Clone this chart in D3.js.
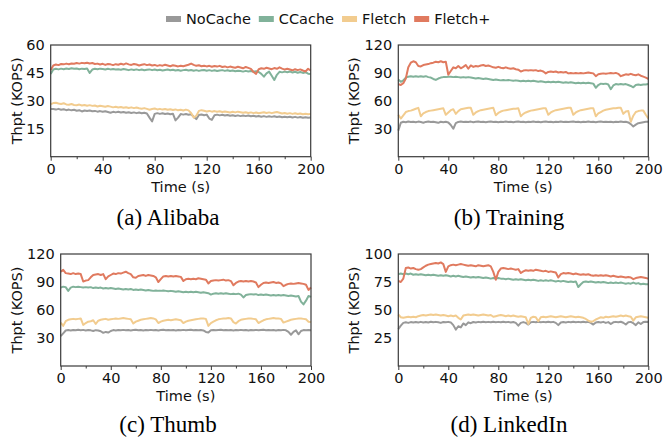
<!DOCTYPE html>
<html><head><meta charset="utf-8">
<script src="https://cdn.jsdelivr.net/npm/d3@7"></script>
<style>body{margin:0;background:#fff} svg text{font-family:"DejaVu Sans",sans-serif}</style>
</head><body><svg id="c" width="665" height="439"></svg>
<script>
// ---------- data ----------
const seconds = d3.range(0, 201, 2);
const seriesNames = ["NoCache", "CCache", "Fletch", "Fletch+"];
const xTicks = [0, 40, 80, 120, 160, 200];
const xMinorTicks = [20, 60, 100, 140, 180];
const captions = ["(a) Alibaba", "(b) Training", "(c) Thumb", "(d) LinkedIn"];
const yMaxes = [60, 120, 120, 100];
const yTickSets = [[15, 30, 45, 60], [30, 60, 90, 120], [30, 60, 90, 120], [25, 50, 75, 100]];

const alibabaNoCache = [25.6,25.6,25.3,25.7,25.2,25.5,25.0,25.3,24.9,25.2,
24.7,25.0,24.3,24.8,24.5,24.8,24.4,24.6,24.2,24.5,
24.1,24.4,24.0,23.6,24.1,23.8,24.1,23.7,24.0,23.6,
23.9,23.5,23.8,23.4,23.7,23.3,23.6,23.2,21.0,19.0,
23.0,23.4,23.0,23.3,22.9,23.2,22.8,23.1,19.5,21.0,
22.9,22.6,22.9,22.5,22.8,21.5,20.2,22.4,22.7,22.3,
22.6,20.5,19.8,22.3,22.6,22.2,22.5,22.1,22.4,22.0,
22.3,21.9,22.2,21.8,22.1,21.8,22.1,21.7,22.0,21.6,
21.9,21.5,21.8,21.4,21.7,21.4,21.7,21.3,21.6,21.2,
21.5,21.2,21.5,21.1,21.4,21.0,21.3,20.9,21.2,20.9,
21.1];
const alibabaCCache = [44.5,46.8,47.2,46.9,47.3,47.0,47.4,47.1,47.5,47.2,
47.4,47.0,47.3,47.1,47.4,45.0,46.8,47.2,47.0,47.3,
47.1,46.8,47.2,46.9,47.1,46.8,47.0,46.7,47.1,46.8,
46.5,46.9,46.6,46.9,46.5,46.8,46.4,46.7,46.9,46.5,
46.8,46.4,46.7,46.3,46.6,46.8,46.4,46.7,46.3,46.6,
46.2,46.5,46.7,46.3,46.6,46.2,46.5,46.1,46.4,46.6,
46.2,46.5,46.1,46.4,46.0,46.3,46.5,46.1,46.4,46.0,
46.3,45.9,46.2,46.0,45.7,46.1,45.8,46.0,45.6,45.9,
45.5,44.5,43.0,44.8,45.7,43.5,41.2,44.0,45.6,45.3,
45.7,45.4,45.8,45.2,45.6,45.1,45.5,45.0,45.4,44.6,
44.4];
const alibabaFletch = [28.2,28.8,29.0,28.6,28.3,28.7,28.1,27.9,28.3,27.8,
27.6,28.0,27.5,27.8,27.4,27.7,27.3,27.5,27.0,27.4,
27.1,26.8,27.2,26.9,26.5,26.8,26.4,26.7,26.3,26.6,
26.2,26.5,26.1,26.4,26.0,25.8,26.1,25.7,25.2,25.6,
25.9,25.4,25.7,25.3,25.6,25.2,25.5,25.1,25.4,24.9,
25.2,24.8,25.3,24.9,23.5,21.0,22.0,24.6,25.0,24.7,
24.3,24.6,24.2,24.5,24.1,24.4,24.0,24.3,24.0,23.7,
24.1,23.8,24.2,23.9,23.6,23.9,23.5,23.8,23.4,23.7,
23.3,23.6,23.9,23.5,23.8,23.4,23.7,24.0,23.6,23.2,
23.5,23.1,23.4,23.0,23.3,22.9,23.2,22.8,23.1,22.8,
23.0];
const alibabaFletchPlus = [46.5,49.0,49.5,49.2,49.8,49.6,50.0,49.7,50.1,49.9,
50.3,50.0,50.4,50.2,50.5,50.1,50.3,49.8,50.0,49.5,
49.9,49.3,49.8,49.6,49.2,49.7,49.4,49.9,49.5,50.1,
49.6,49.3,49.8,49.5,49.0,49.4,49.7,49.2,49.5,49.0,
49.3,48.8,49.2,48.9,49.4,49.0,48.6,49.1,48.8,48.5,
48.9,48.6,49.0,49.4,50.0,49.3,48.8,49.1,48.6,48.9,
48.5,48.8,48.3,48.7,48.4,48.8,48.2,48.5,48.0,48.4,
48.1,47.8,48.3,47.9,47.5,48.2,47.7,47.2,45.5,44.5,
47.0,47.5,47.2,47.8,47.4,47.0,47.6,47.2,48.0,47.3,
46.8,47.2,46.8,46.4,47.0,46.5,46.9,46.3,45.8,47.2,
46.3];

const trainingNoCache = [28,36.5,37.5,37,37.8,37.3,37.6,37.1,37.7,37.2,
36.5,37.4,37.8,37.2,37.6,37,36.4,37.5,37.1,37.6,
36.8,34,30,36,37.4,37.8,37.3,37.6,37.2,37.7,
37.1,37.5,37.8,37.2,37.6,37.1,37.5,37.8,37.3,37.6,
37.1,37.5,37.2,37.7,37.3,37.6,37.1,37.5,37.8,37.2,
37.6,37.1,37.5,37.2,37.7,37.3,37.6,37.1,37.5,37.8,
37.3,37.6,37.1,37.5,37.2,37.7,37.3,37.6,37.2,37.5,
37.8,37.3,37.6,37.1,37.5,37.2,37.7,37.3,37.6,37.1,
37.5,37.8,37.3,37.6,37.2,37.5,37.1,37.6,37.3,37.7,
37.2,37.5,36.8,35,32.5,34.5,36,36.5,37,37.5,
37.6];
const trainingCCache = [83,80.5,82,85,86,86.5,86,86.5,86,86.5,
86,86.5,85.5,85,83.5,82.5,84,85,85.5,85.5,
86,86,85.5,86,85.5,85,85.5,85,85.5,85,
84.5,84,84.5,84,83.5,84,83.5,83,82.5,83,
82.5,82,82.5,82,82.5,82,81.5,82,81.5,81,
81.5,81,81.5,81,81.5,81,80.5,81,80.5,80,
80.5,80,80.5,80,80.5,80,79.5,80,79.5,80,
79.5,79,79.5,79,79.5,79,79.5,79,78.5,74,
77,78.5,78,78.5,77.5,72.5,76.5,78,77.5,78,
77.5,78,77,76,74.5,77,77.5,77,77.5,77.5,
78];
const trainingFletch = [45,41,44.5,48,49,49.5,50.5,51.5,52.5,43.5,
46.5,48,49,49.5,50,50.5,51,51.5,52,45,
47.5,50,51,46,49,51,51.5,52,52.5,52.5,
45,47.5,49,50,50.5,51,51.5,52,52.5,44.5,
47,48.5,49.5,50,50.5,51,51.5,51.5,52,43.5,
46,47.5,48.5,49.5,50,50.5,51,51.5,52,52,
45,47.5,49,50,50.5,51,51.5,52,52.5,52.5,
45,47.5,49,50,50.5,51,51.5,52,52,43.5,
46.5,48,49.5,50.5,51,51.5,52,52,52.5,52.5,
46,48.5,49,37.5,44,48,49,49.5,49.5,45,
41];
const trainingFletchPlus = [78,77,79,84,96,101,102.5,101.5,97.5,97,
98.5,99,99.5,100.5,101,102,101.5,102.5,101.5,102,
88,92,96,95,97.5,95,96.5,98.5,94.5,98,
96.5,97.5,97,98,98.5,97.5,98,97,96,95.5,
96.5,95.5,95,96,95,94.5,95,94,93.5,91.5,
92.5,93,92.5,93,92.5,93,92,92.5,91.5,89.5,
91,91.5,91,91.5,90.5,91,90.5,91,89.5,90,
89.5,90,89.5,90,89.5,90,90.5,90,89.5,86.5,
88.5,89,89.5,89,89.5,90,89.5,90,89,86.5,
87.5,88.5,88,89,88,87.5,88.5,87,86,85,
83.5];

const thumbNoCache = [32,35,38,38.5,38,38.6,38.2,38.8,38.3,38.7,
38.1,38.6,38.2,37.5,38.4,38.1,37.2,35.5,36.5,35.8,
37.5,38.5,38.1,38.6,38.2,38.7,38.3,38.6,38.1,38.5,
38.8,38.3,38.6,38.1,38.5,38.2,38.7,38.3,38.6,38.1,
38.5,38.8,38.3,38.6,38.2,38.5,38.1,38.6,38.3,38.7,
38.2,38.5,38.8,38.3,38.6,38.2,38.5,38.1,36.5,36,
38.3,38.6,38.2,38.5,38.8,38.3,38.6,38.2,38.5,38.1,
38.6,38.3,38.7,38.2,38.5,38.1,38.6,38.3,38.7,38.2,
38.5,38.8,38.3,38.6,38.2,38.5,38.1,38.6,38.3,38.7,
38.2,36.5,33.5,36.5,38.2,34,37.5,38.5,38.2,38.6,
38.4];
const thumbCCache = [84,85,84.5,80.5,84,85,84.5,85,84.5,84,
84.5,84,84.5,83.5,84,83.5,84,83,83.5,83,
83.5,83,82.5,83,82.5,82,82.5,82,82.5,81.5,
82,81.5,82,81.5,81,81.5,81,80.5,81,80.5,
80.5,81,80.5,80,80.5,80,79.5,80,79.5,79,
79.5,79,79.5,79,79.5,79,78.5,79,78.5,78,
76.5,77.5,78,77.5,78,77.5,78,77.5,77,77.5,
77,77.5,76.5,73.5,76,76.5,77,76.5,77,76,
76.5,76,76.5,76,75.5,76,75.5,76,75.5,76,
75.5,75,75.5,75,74.5,75,69,66,70,75,
74];
const thumbFletch = [46.5,43,48,49.5,50,50.5,50,50.5,51,44,
46,47.5,48,49,45,48.5,49.5,50,50.5,49.5,
50,50.5,51,50.5,51,51.5,51,50.5,50,45.5,
47.5,48.5,49.5,50,50.5,51,51.5,51,50,46,
47.5,48.5,49,49.5,49,49.5,50,49.5,49,46,
47.5,48.5,49,49.5,50,50.5,51,51,50.5,43,
46,47.5,49,50,50.5,51,51,51.5,51,47,
45.5,48,49.5,50,50.5,51,51,50.5,50,46,
47.5,49,50,50.5,51,51.5,51,51,50.5,46.5,
47.5,48.5,49.5,50,50.5,51,51,50.5,50,47.5,
47];
const thumbFletchPlus = [101,103,99.5,99,98.5,99.5,98.5,99,98.5,90.5,
91.5,92,95,97.5,98,98.5,97.5,98.5,93,96,
97.5,99,98.5,99.5,99,100,101,99.5,98.5,95,
94.5,96.5,97,97.5,96.5,97.5,97,96.5,95,90,
93,96,96.5,96,96.5,96,96.5,96,95.5,91,
93,93.5,93,93.5,93,94,93.5,93,92.5,88.5,
91,91.5,92,91.5,92,92.5,91.5,92,91,86.5,
89,90.5,91,90.5,91,90.5,91,90.5,89.5,84.5,
87,89,89.5,89,89.5,90,89,89.5,88.5,85.5,
87,88,88.5,88,88.5,89,88.5,88,87,81.5,
84];

const linkedinNoCache = [33,36,38.5,39,38.5,39.2,38.8,39.3,38.9,39.4,
38.8,39.3,38.9,39.5,39,39.4,39,38.5,39.3,39,
39.4,38.9,36.5,32.5,35.5,34.5,38,36.5,39,38.2,
39.3,38.9,39.4,39,39.5,39.1,39.4,39,39.5,39.1,
39.4,39,39.5,39.1,39.4,38.9,39.3,38.5,36,38.5,
39.2,38.5,37,39,39.4,39,39.5,39.1,39.4,39,
39.5,39.1,39.4,38.5,36.5,38.8,39.3,38.9,39.4,39,
39.5,39.1,39.4,39,39.5,39.1,39.4,38.5,37,38.8,
39.3,38.9,39.4,38.5,39.2,37.5,39,39.4,39,39.5,
38.6,37,39.1,39.4,38.2,36.5,39,37.5,39.2,39.5,
39.3];
const linkedinCCache = [82,82.5,82,82.5,82,82.5,81.5,82,81.5,82,
81.5,81,81.5,81,81.5,81,80.5,81,80.5,81,
80.5,80,80.5,80,80.5,80,79.5,80,79.5,79,
79.5,79,79.5,79,78.5,79,78.5,78,78.5,78,
78.5,78,78,77.5,78,77.5,77,77.5,77,77.5,
77,76.5,77,76.5,77,76.5,76,76.5,76,76.5,
76,76.5,76,75.5,76,75.5,76,75.5,75,75.5,
75,75.5,70.5,73,75,75.5,75,75.5,75,74.5,
75,74.5,75,74.5,74,74.5,74,74.5,74,74.5,
74,73.5,74,73.5,74.5,73.5,74,73,73.5,73,
73];
const linkedinFletch = [46,43.5,43,43.5,44,43.5,44,43.5,44.5,45,
45.5,45,45.5,46,45.5,46,45.5,45,45.5,45,
44.5,45,44.5,45,43,41.5,45,45.5,46,45.5,
46,45.5,45,45.5,46,45.5,45,45.5,44,44.5,
45,45.5,45,44.5,45,44.5,45,44.5,44,44.5,
44,43.5,37.5,43,44,43.5,40,43.5,44,43.5,
44,44.5,44,43.5,44,44.5,44,43.5,44,44.5,
44,43.5,44,43.5,43,42,40.5,39.5,40,41.5,
42.5,43.5,43,44,43.5,44,44.5,44,44.5,45,
44.5,45,44.5,44,40.5,43.5,44,44.5,44,43.5,
43];
const linkedinFletchPlus = [76,75,78,87.5,88,87,87.5,86.5,86,86.5,
88,89.5,90.5,91,91.5,92,91.5,92.5,91,84,
89,90,90.5,90,90.5,91,90.5,90,89.5,90,
89.5,89,90,89.5,89,89.5,90,89,84,77,
84,87,87.5,87,86.5,87,86.5,86,86.5,83,
84.5,85.5,85,85.5,85,86,85.5,85,84.5,85,
84,84.5,84,83.5,79,82,83,82.5,83,82.5,
82,82.5,82,81.5,82,81.5,82,81,80.5,81,
80.5,81,80.5,81,80.5,80,80.5,80,79.5,80,
79.5,79,79.5,79,77.5,78.5,79,79.5,79,78.5,
78];

const panelSeries = [
  [alibabaNoCache, alibabaCCache, alibabaFletch, alibabaFletchPlus],
  [trainingNoCache, trainingCCache, trainingFletch, trainingFletchPlus],
  [thumbNoCache, thumbCCache, thumbFletch, thumbFletchPlus],
  [linkedinNoCache, linkedinCCache, linkedinFletch, linkedinFletchPlus]
];

// ---------- layout & style ----------
const colors = ["#999999", "#81B29A", "#F2CC8F", "#E07A5F"];
const boxes = [
  {left: 50.7, right: 310.7, top: 45, bottom: 156.7, capX: 168, capY: 225},
  {left: 398.3, right: 648.3, top: 45, bottom: 156.7, capX: 509, capY: 225},
  {left: 60.7, right: 311, top: 254, bottom: 366, capX: 168, capY: 432},
  {left: 398.3, right: 648.3, top: 254, bottom: 366, capX: 509, capY: 432}
];
const FONT = 14.5;
const svg = d3.select("#c");

boxes.forEach((b, i) => {
  const x = d3.scaleLinear().domain([0, 200]).range([b.left, b.right]);
  const y = d3.scaleLinear().domain([0, yMaxes[i]]).range([b.bottom, b.top]);
  const g = svg.append("g");

  const line = d3.line().x((d, k) => x(seconds[k])).y(d => y(d));
  panelSeries[i].forEach((vals, s) => {
    g.append("path").datum(vals).attr("d", line)
      .attr("fill", "none").attr("stroke", colors[s])
      .attr("stroke-width", 2).attr("stroke-linejoin", "round");
  });

  // frame
  g.append("rect").attr("x", b.left).attr("y", b.top)
    .attr("width", b.right - b.left).attr("height", b.bottom - b.top)
    .attr("fill", "none").attr("stroke", "#3a3a3a").attr("stroke-width", 1.2);

  // x axis
  const xa = g.append("g").attr("transform", `translate(0,${b.bottom})`)
    .call(d3.axisBottom(x).tickValues(xTicks).tickSize(4).tickPadding(3));
  xa.select(".domain").remove();
  xa.selectAll("line").attr("stroke", "#3a3a3a");
  xa.selectAll("text").attr("font-size", FONT).attr("fill", "#111")
    .attr("font-family", "DejaVu Sans");
  const xm = g.append("g").attr("transform", `translate(0,${b.bottom})`)
    .call(d3.axisBottom(x).tickValues(xMinorTicks).tickSize(2.5).tickFormat(""));
  xm.select(".domain").remove();
  xm.selectAll("line").attr("stroke", "#3a3a3a");

  // y axis
  const ya = g.append("g").attr("transform", `translate(${b.left},0)`)
    .call(d3.axisLeft(y).tickValues(yTickSets[i]).tickSize(0).tickPadding(6));
  ya.select(".domain").remove();
  ya.selectAll("text").attr("font-size", FONT).attr("fill", "#111")
    .attr("font-family", "DejaVu Sans");

  // axis labels
  g.append("text").attr("x", (b.left + b.right) / 2).attr("y", b.bottom + 35)
    .attr("text-anchor", "middle").attr("font-size", FONT).attr("fill", "#111")
    .text("Time (s)");
  const lx = b.left - (i === 0 ? 34 : 44);
  g.append("text").attr("transform", `translate(${lx},${(b.top + b.bottom) / 2}) rotate(-90)`)
    .attr("text-anchor", "middle").attr("dy", "0.35em").attr("font-size", FONT).attr("fill", "#111")
    .text("Thpt (KOPS)");

  // caption
  svg.append("text").attr("x", b.capX).attr("y", b.capY).attr("text-anchor", "middle")
    .style("font-family", "'Liberation Serif','Times New Roman',serif")
    .attr("font-size", 23).attr("fill", "#000").text(captions[i]);
});

// legend
let lxPos = 166;
const legend = svg.append("g");
seriesNames.forEach((name, s) => {
  legend.append("rect").attr("x", lxPos).attr("y", 16).attr("width", 15).attr("height", 6)
    .attr("fill", colors[s]);
  const t = legend.append("text").attr("x", lxPos + 20).attr("y", 24)
    .attr("font-size", FONT).attr("fill", "#111").text(name);
  lxPos += 20 + t.node().getComputedTextLength() + 8;
});
</script></body></html>
